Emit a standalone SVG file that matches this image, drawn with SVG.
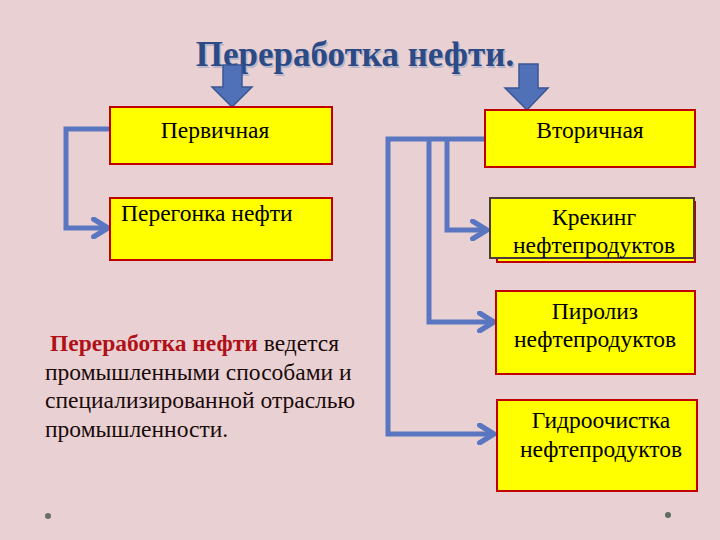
<svg xmlns="http://www.w3.org/2000/svg" width="720" height="540" viewBox="0 0 720 540">
<defs>
<style>
.box{fill:#FFFF00;stroke:#C00000;stroke-width:2}
.t{font-family:"Liberation Serif","Times New Roman",serif;font-size:23.5px;fill:#000}
.c{text-anchor:middle}
.conn{fill:none;stroke:#5A76C0;stroke-width:5;stroke-linejoin:miter}
.dn{fill:#5070B8;stroke:#3B5594;stroke-width:1.5}
.p{font-family:"Liberation Serif","Times New Roman",serif;font-size:23.5px;fill:#1a0a0a}
</style>
<marker id="ah" viewBox="0 0 10 10" refX="8" refY="5" markerWidth="4.4" markerHeight="4.4" orient="auto" markerUnits="strokeWidth">
<polyline points="1.5,1 8,5 1.5,9" fill="none" stroke="#5A76C0" stroke-width="2.4" stroke-linejoin="round" stroke-linecap="round"/>
</marker>
</defs>
<rect width="720" height="540" fill="#E9D1D3"/>
<g id="title">
<text x="355" y="66" text-anchor="middle" font-family="Liberation Serif,serif" font-size="35" font-weight="bold" fill="#9aa3c0" opacity="0.6" transform="translate(1.5,1.5)">Переработка нефти.</text>
<text x="355" y="66" text-anchor="middle" font-family="Liberation Serif,serif" font-size="35" font-weight="bold" fill="#2C4A86">Переработка нефти.</text>
</g>
<g id="arrows-down">
<polygon class="dn" points="223,65 242,65 242,87 252,87 232,107 212,87 223,87"/>
<polygon class="dn" points="519,64 538,64 538,88 548,88 527,110 505,88 519,88"/>
</g>
<g id="connectors">
<polyline class="conn" points="110,129 66,129 66,228 108,228" marker-end="url(#ah)"/>
<polyline class="conn" points="485,139 388,139 388,434 494,434" marker-end="url(#ah)"/>
<polyline class="conn" points="429,139 429,322 494,322" marker-end="url(#ah)"/>
<polyline class="conn" points="447,139 447,230 487,230" marker-end="url(#ah)"/>
</g>
<g id="n-primary">
<rect class="box" x="110" y="107" width="222" height="57"/>
<text class="t c" x="215" y="138">Первичная</text>
</g>
<g id="n-distill">
<rect class="box" x="110" y="198" width="222" height="62"/>
<text class="t" x="121" y="221">Перегонка нефти</text>
</g>
<g id="n-secondary">
<rect class="box" x="485" y="110" width="210" height="57"/>
<text class="t c" x="590" y="138">Вторичная</text>
</g>
<g id="n-cracking">
<rect x="497" y="202" width="198" height="60" fill="#FFFF00" stroke="#C00000" stroke-width="2"/>
<rect x="490" y="198" width="204" height="60" fill="#FFFF00" stroke="#4a3a3a" stroke-width="2"/>
<text class="t c" x="594" y="225">Крекинг</text>
<text class="t c" x="594" y="253">нефтепродуктов</text>
</g>
<g id="n-pyrolysis">
<rect class="box" x="496" y="291" width="199" height="83"/>
<text class="t c" x="595" y="319">Пиролиз</text>
<text class="t c" x="595" y="347">нефтепродуктов</text>
</g>
<g id="n-hydro">
<rect class="box" x="497" y="400" width="200" height="91"/>
<text class="t c" x="601" y="428">Гидроочистка</text>
<text class="t c" x="601" y="457">нефтепродуктов</text>
</g>
<g id="paragraph">
<text class="p" x="50" y="351"><tspan font-weight="bold" fill="#B01018">Переработка нефти</tspan> ведется</text>
<text class="p" x="45" y="380">промышленными способами и</text>
<text class="p" x="45" y="408">специализированной отраслью</text>
<text class="p" x="45" y="437">промышленности.</text>
</g>
<circle cx="48" cy="516" r="3" fill="#6a6e6a"/>
<circle cx="668" cy="515" r="3" fill="#5f6b63"/>
</svg>
